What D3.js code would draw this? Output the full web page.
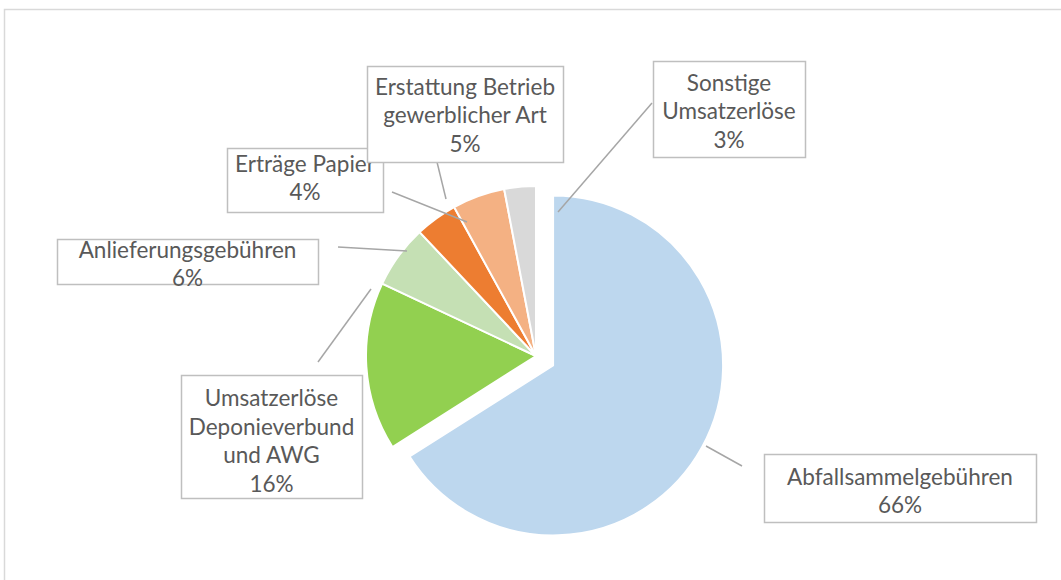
<!DOCTYPE html>
<html><head><meta charset="utf-8">
<script src="https://cdn.jsdelivr.net/npm/d3@7"></script>
<style>body{margin:0;background:#fff;overflow:hidden}</style>
</head><body>
<svg id="chart" width="1061" height="580"></svg>
<script>
// ---- data ----
const categories = ["Abfallsammelgebühren", "Umsatzerlöse Deponieverbund und AWG", "Anlieferungsgebühren", "Erträge Papier", "Erstattung Betrieb gewerblicher Art", "Sonstige Umsatzerlöse"];
const values = [66, 16, 6, 4, 5, 3];
const labelLines = [["Abfallsammelgebühren"], ["Umsatzerlöse", "Deponieverbund", "und AWG"], ["Anlieferungsgebühren"], ["Erträge Papier"], ["Erstattung Betrieb", "gewerblicher Art"], ["Sonstige", "Umsatzerlöse"]];
const colors = ["#BDD7EE", "#92D050", "#C5E0B4", "#ED7D31", "#F4B183", "#D9D9D9"];

// ---- layout ----
const center = [536, 356];
const radius = 170;
const explode = [19.5, 0, 0, 0, 0, 0];
const boxes = [
  {x: 764, y: 454, w: 272, h: 68, cx: 900, ty: 477},
  {x: 181, y: 375, w: 181, h: 123, cx: 271.5, ty: 398.5},
  {x: 57, y: 239, w: 261, h: 45, cx: 187.5, ty: 250},
  {x: 227, y: 148, w: 156, h: 64, cx: 305, ty: 164},
  {x: 367, y: 66, w: 196, h: 96, cx: 465, ty: 87},
  {x: 653, y: 61, w: 152, h: 96, cx: 729, ty: 83}
];
const leaders = [
  [706, 446, 742, 466],
  [318, 362, 371, 289],
  [338, 247, 407, 251],
  [392, 192, 467, 222],
  [437, 162, 446, 199],
  [652, 103, 558, 212]
];
const boxOrder = [0, 1, 2, 3, 4, 5];
const lineH = 28.5;
const fontFamily = "Lato, 'Open Sans', sans-serif";

const svg = d3.select("#chart");
svg.append("rect").attr("x", 0).attr("y", 0).attr("width", 1061).attr("height", 580).attr("fill", "#fff");
svg.append("rect").attr("x", 4.5).attr("y", 9.5).attr("width", 1100).attr("height", 620)
  .attr("fill", "#fff").attr("stroke", "#d9d9d9").attr("stroke-width", 1.5);

const total = d3.sum(values);
const pct = d3.format(".0%");
const pie = d3.pie().sort(null).value(d => d)(values);
const arc = d3.arc().innerRadius(0).outerRadius(radius);

const g = svg.append("g").attr("transform", `translate(${center[0]},${center[1]})`);
g.selectAll("path").data(pie).join("path")
  .attr("d", arc)
  .attr("fill", (d, i) => colors[i])
  .attr("stroke", "#fff").attr("stroke-width", 2).attr("stroke-linejoin", "round")
  .attr("transform", (d, i) => {
    const a = (d.startAngle + d.endAngle) / 2;
    return `translate(${explode[i] * Math.sin(a)},${-explode[i] * Math.cos(a)})`;
  });

svg.selectAll("line.leader").data(leaders).join("line").attr("class", "leader")
  .attr("x1", d => d[0]).attr("y1", d => d[1]).attr("x2", d => d[2]).attr("y2", d => d[3])
  .attr("stroke", "#a6a6a6").attr("stroke-width", 1.5);

// font size fit: match Excel label width
const probe = svg.append("text").attr("font-family", fontFamily).attr("font-size", 20).text("Abfallsammelgebühren");
const w20 = probe.node().getComputedTextLength();
probe.remove();
const fs = Math.min(24, Math.max(16, 20 * 226 / w20));

boxOrder.forEach(i => {
  const b = boxes[i];
  const lg = svg.append("g");
  lg.append("rect").attr("x", b.x + 0.5).attr("y", b.y + 0.5).attr("width", b.w).attr("height", b.h)
    .attr("fill", "#fff").attr("stroke", "#bfbfbf").attr("stroke-width", 1.5);
  const lines = labelLines[i].concat([pct(values[i] / total)]);
  lg.selectAll("text").data(lines).join("text")
    .attr("x", b.cx).attr("y", (d, k) => b.ty + k * lineH)
    .attr("dy", "0.35em")
    .attr("text-anchor", "middle")
    .attr("font-family", fontFamily).attr("font-size", fs)
    .attr("fill", "#595959")
    .text(d => d);
});
</script>
</body></html>
